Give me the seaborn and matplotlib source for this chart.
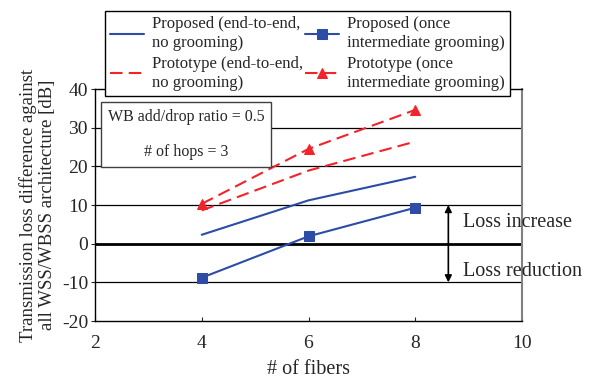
import numpy as np
import pandas as pd
import matplotlib
matplotlib.use("Agg")
import matplotlib.pyplot as plt
import seaborn as sns

# values
fibers = [4, 6, 8]
proposed_e2e = [2.3, 11.2, 17.3]
proposed_groom = [-8.8, 1.9, 9.3]
prototype_e2e = [8.6, 18.9, 26.4]
prototype_groom = [10.3, 24.5, 34.6]

labels = [
    "Proposed (end-to-end,\nno grooming)",
    "Proposed (once\nintermediate grooming)",
    "Prototype (end-to-end,\nno grooming)",
    "Prototype (once\nintermediate grooming)",
]
xticks = [2, 4, 6, 8, 10]
yticks = [-20, -10, 0, 10, 20, 30, 40]

BLUE = "#2C4CA5"
RED = "#F2232A"

sns.set_style("white")
plt.rcParams["font.family"] = ["Liberation Serif", "DejaVu Serif"]
plt.rcParams["axes.unicode_minus"] = False

fig = plt.figure(figsize=(5.91, 3.85), dpi=100)
ax = fig.add_axes([95 / 591, 1 - 321 / 385, 427 / 591, 232 / 385])

# horizontal reference lines
for y in [-10, 10, 20, 30]:
    ax.axhline(y, color="black", lw=0.9, zorder=1)
ax.axhline(0, color="black", lw=2.0, zorder=1)

series = [
    (proposed_e2e, labels[0], BLUE, "", "-"),
    (proposed_groom, labels[1], BLUE, "s", "-"),
    (prototype_e2e, labels[2], RED, "", (0, (6, 3))),
    (prototype_groom, labels[3], RED, "^", (0, (6, 3))),
]
handles = {}
for vals, lab, col, mk, ls in series:
    df = pd.DataFrame({"x": fibers, "y": vals})
    sns.lineplot(data=df, x="x", y="y", ax=ax, color=col, lw=1.5,
                 marker=mk if mk else None, markersize=6.5,
                 markeredgecolor=col, label=lab, zorder=3)
    ln = ax.lines[-1]
    ln.set_linestyle(ls)
    handles[lab] = ln

ax.set_xlim(2, 10)
ax.set_ylim(-20, 40)
ax.set_xticks(xticks)
ax.set_yticks(yticks)
ax.tick_params(axis="x", direction="in", length=3, labelsize=14, pad=10)
ax.tick_params(axis="y", direction="out", length=3, labelsize=14, pad=2)
ax.tick_params(bottom=True, left=True)
for s in ["left", "bottom", "top"]:
    ax.spines[s].set_color("black")
    ax.spines[s].set_linewidth(1.0)
ax.spines["right"].set_color("#808080")
ax.spines["right"].set_linewidth(1.5)

ax.set_xlabel("# of fibers", fontsize=14.5, labelpad=6)
ax.set_ylabel("Transmission loss difference against\nall WSS/WBSS architecture [dB]",
              fontsize=13.5, labelpad=4, linespacing=1.15)

ax.get_legend().remove()
order = [labels[0], labels[2], labels[1], labels[3]]
leg = fig.legend([handles[l] for l in order], order, ncol=2,
                 loc="upper left", mode="expand",
                 bbox_to_anchor=(97 / 591, 1 - 98 / 385, 421 / 591, 95 / 385),
                 fontsize=12, frameon=True, fancybox=False, framealpha=1,
                 edgecolor="black", handlelength=2.0, labelspacing=0.25,
                 borderpad=0.3, columnspacing=0.8, handletextpad=0.5)
for t in leg.get_texts():
    t.set_linespacing(1.25)
leg.get_frame().set_linewidth(1.0)

ax.text(0.213, 0.804, "WB add/drop ratio = 0.5\n\n# of hops = 3",
        transform=ax.transAxes, ha="center", va="center", fontsize=11.5,
        linespacing=1.15,
        bbox=dict(boxstyle="square,pad=0.4", fc="white", ec="#404040", lw=1.0),
        zorder=5)

ax.annotate("", xy=(8.62, 10), xytext=(8.62, 0),
            arrowprops=dict(arrowstyle="-|>", color="black", lw=1.2,
                            mutation_scale=10, shrinkA=0, shrinkB=0), zorder=4)
ax.annotate("", xy=(8.62, -10), xytext=(8.62, 0),
            arrowprops=dict(arrowstyle="-|>", color="black", lw=1.2,
                            mutation_scale=10, shrinkA=0, shrinkB=0), zorder=4)
ax.text(8.9, 5.6, "Loss increase", fontsize=14.5, va="center", ha="left", clip_on=False)
ax.text(8.9, -7.2, "Loss reduction", fontsize=14.5, va="center", ha="left", clip_on=False)

fig.savefig("out.png", dpi=100)
